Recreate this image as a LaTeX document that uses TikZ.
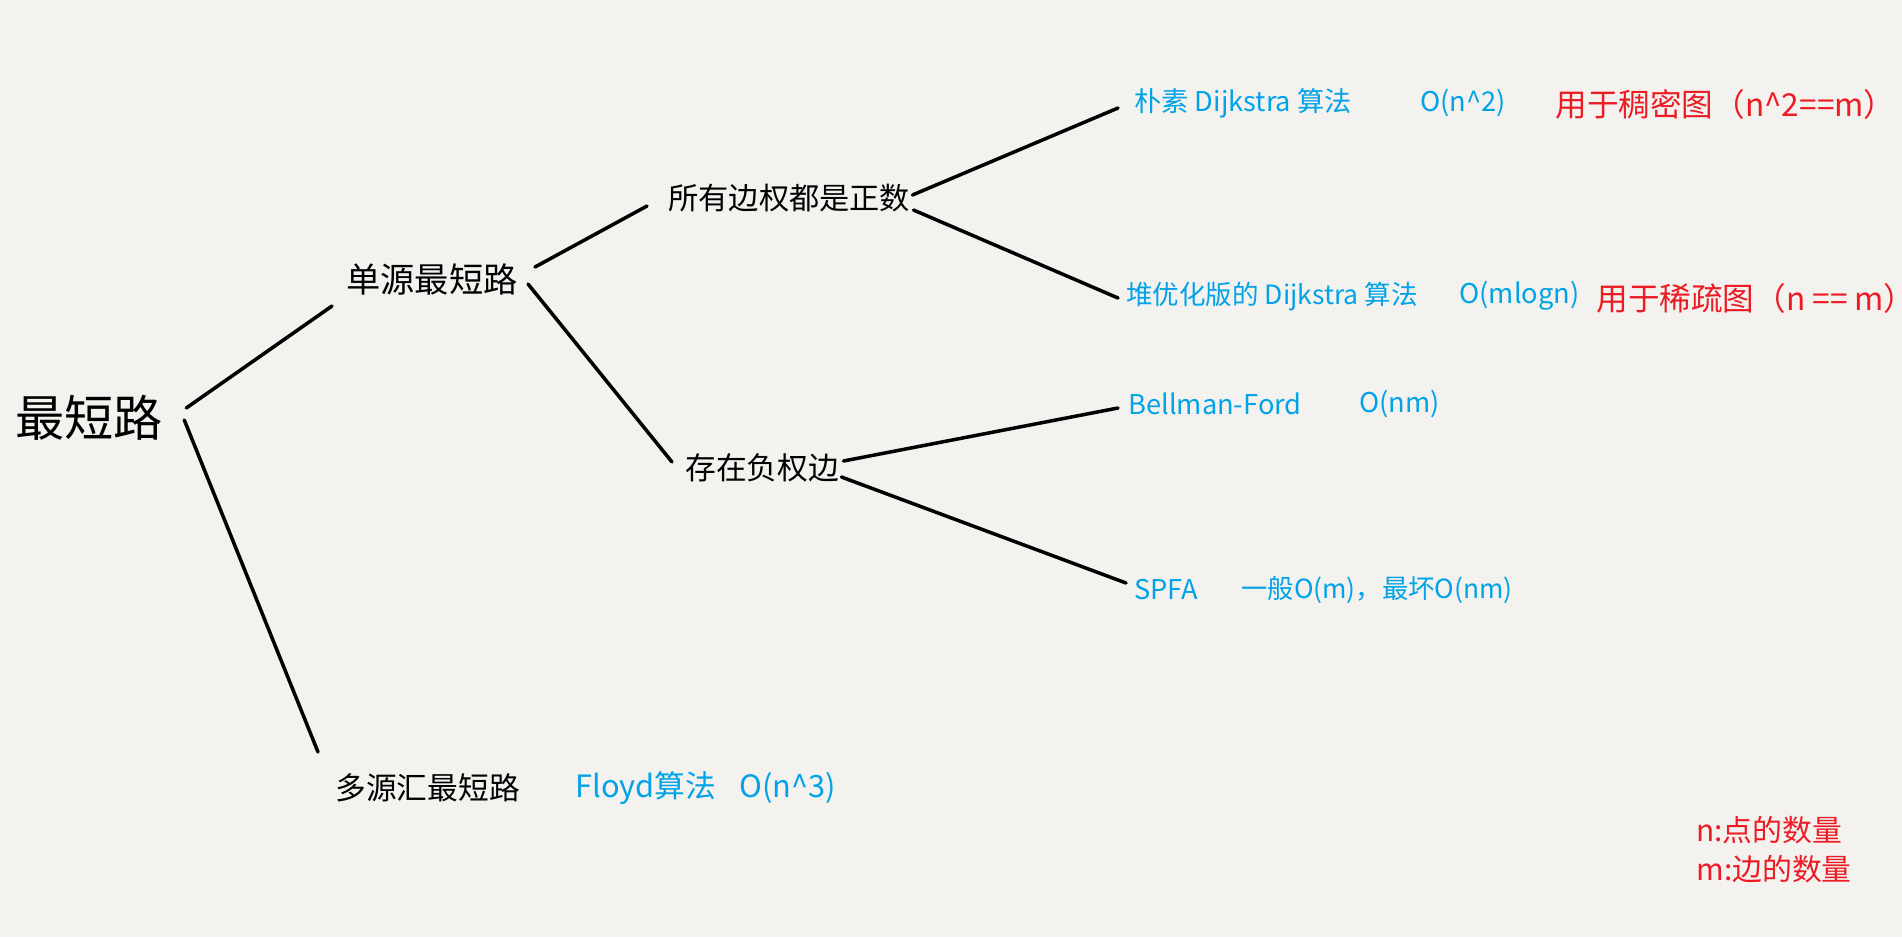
\documentclass[tikz,border=0pt]{standalone}
\usepackage{fontspec}
\setmainfont{Noto Sans CJK SC}
\definecolor{paper}{RGB}{243,242,239}
\definecolor{algoblue}{RGB}{0,162,232}
\definecolor{notered}{RGB}{237,28,36}
\tikzset{
  topic/.style={inner sep=0pt, anchor=west, text=black},
  algo/.style={inner sep=0pt, anchor=west, text=algoblue, font=\fontsize{15.5}{18}\selectfont},
  remark/.style={inner sep=0pt, anchor=west, text=notered, font=\fontsize{18}{20}\selectfont},
  branch/.style={line width=2pt, line cap=round}
}
\begin{document}
\begin{tikzpicture}[x=0.02cm, y=-0.02cm]
\fill[paper] (0,0) rectangle (1902,937);
\useasboundingbox (0,0) rectangle (1902,937);

\node[topic, font=\fontsize{28}{32}\selectfont] (root) at (15,418) {最短路};
\node[topic, font=\fontsize{19.5}{22}\selectfont] (single) at (346,279) {单源最短路};
\node[topic, font=\fontsize{17.2}{20}\selectfont] (allpos) at (668,198) {所有边权都是正数};
\node[topic, font=\fontsize{17.5}{20}\selectfont] (neg) at (685,468) {存在负权边};
\node[topic, font=\fontsize{17.5}{20}\selectfont] (multi) at (335,788) {多源汇最短路};

\node[algo] (naive) at (1134,103) {朴素 Dijkstra 算法};
\node[algo] (naivecost) at (1420,103) {O(n\^{}2)};
\node[remark] (dense) at (1555,104) {用于稠密图（n\^{}2==m）};
\node[algo, font=\fontsize{15.1}{18}\selectfont] (heap) at (1126,296) {堆优化版的 Dijkstra 算法};
\node[algo] (heapcost) at (1459,296) {O(mlogn)};
\node[remark] (sparse) at (1596,298) {用于稀疏图（n == m）};
\node[algo] (bellman) at (1128,404) {Bellman-Ford};
\node[algo] (bellmancost) at (1359,404) {O(nm)};
\node[algo] (spfa) at (1134,590) {SPFA};
\node[algo, font=\fontsize{15}{18}\selectfont] (spfacost) at (1241,590) {一般O(m)，最坏O(nm)};
\node[algo, font=\fontsize{17.5}{20}\selectfont] (floyd) at (575,788) {Floyd算法};
\node[algo, font=\fontsize{17.5}{20}\selectfont] (floydcost) at (739,788) {O(n\^{}3)};

\node[remark, font=\fontsize{17}{20}\selectfont] (nnote) at (1696,830) {n:点的数量};
\node[remark, font=\fontsize{17}{20}\selectfont] (mnote) at (1696,869) {m:边的数量};

\draw[branch] ([shift={(23,-10)}]root.east) -- ([shift={(-14,27)}]single.west);
\draw[branch] ([shift={(21,2)}]root.east) -- ([shift={(-17,-36)}]multi.west);
\draw[branch] ([shift={(17,-12)}]single.east) -- ([shift={(-21,8)}]allpos.west);
\draw[branch] ([shift={(10,5)}]single.east) -- ([shift={(-13,-6)}]neg.west);
\draw[branch] ([shift={(2,-3)}]allpos.east) -- ([shift={(-16,5)}]naive.west);
\draw[branch] ([shift={(3,12)}]allpos.east) -- ([shift={(-8,2)}]heap.west);
\draw[branch] ([shift={(4,-7)}]neg.east) -- ([shift={(-10,4)}]bellman.west);
\draw[branch] ([shift={(2,9)}]neg.east) -- ([shift={(-8,-7)}]spfa.west);
\end{tikzpicture}
\end{document}
